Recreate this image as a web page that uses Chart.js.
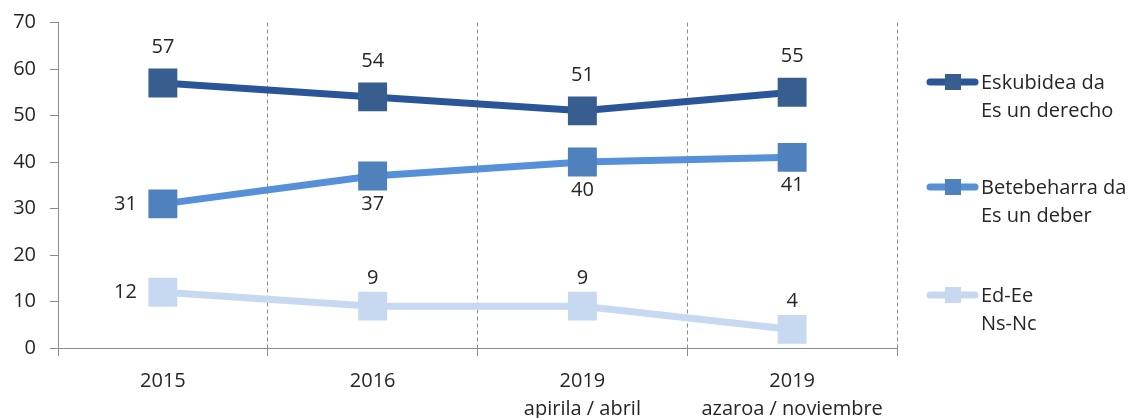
<!DOCTYPE html>
<html>
<head>
<meta charset="utf-8">
<script src="https://cdn.jsdelivr.net/npm/chart.js@4.4.1/dist/chart.umd.min.js"></script>
<style>
  html, body { margin: 0; padding: 0; background: #fff; }
  #wrap { width: 1134px; height: 418px; position: relative; }
</style>
</head>
<body>
<div id="wrap"><canvas id="lineChart"></canvas></div>
<script>
/* Data */
const categories = [["2015"], ["2016"], ["2019", "apirila / abril"], ["2019", "azaroa / noviembre"]];
const seriesNames = [["Eskubidea da", "Es un derecho"], ["Betebeharra da", "Es un deber"], ["Ed-Ee", "Ns-Nc"]];
const eskubidea = [57, 54, 51, 55];
const betebeharra = [31, 37, 40, 41];
const edEe = [12, 9, 9, 4];
const yTicks = [0, 10, 20, 30, 40, 50, 60, 70];

const FONT = "'Open Sans', sans-serif";
const TEXT = "#262626";

// value labels next to each point
const valueLabels = {
  id: "valueLabels",
  afterDatasetsDraw(chart) {
    const ctx = chart.ctx;
    ctx.save();
    ctx.font = "20px " + FONT;
    ctx.fillStyle = TEXT;
    ctx.textBaseline = "middle";
    chart.data.datasets.forEach((ds, i) => {
      const meta = chart.getDatasetMeta(i);
      meta.data.forEach((pt, j) => {
        const pos = ds.labelPos[j];
        let x = pt.x, y = pt.y;
        ctx.textAlign = "center";
        if (pos === "above") y -= ds.labelGap;
        else if (pos === "below") y += ds.labelGap;
        else if (pos === "left") { ctx.textAlign = "right"; x -= 26; }
        ctx.fillText(ds.data[j], x, y);
      });
    });
    ctx.restore();
  }
};

// legend on the right with two-line labels
const sideLegend = {
  id: "sideLegend",
  afterDraw(chart) {
    const ctx = chart.ctx;
    const x0 = chart.chartArea.right + 30;
    const rows = [82, 187, 295];
    ctx.save();
    chart.data.datasets.forEach((ds, i) => {
      const y = rows[i];
      ctx.strokeStyle = ds.borderColor;
      ctx.lineWidth = 7;
      ctx.lineCap = "round";
      ctx.beginPath();
      ctx.moveTo(x0 + 3, y);
      ctx.lineTo(x0 + 48, y);
      ctx.stroke();
      ctx.fillStyle = ds.pointBackgroundColor;
      ctx.fillRect(x0 + 18, y - 8, 16, 16);
      ctx.fillStyle = TEXT;
      ctx.font = "20px " + FONT;
      ctx.textAlign = "left";
      ctx.textBaseline = "middle";
      seriesNames[i].forEach((line, k) => ctx.fillText(line, x0 + 54, y + 1 + k * 28));
    });
    ctx.restore();
  }
};

function series(data, line, marker, labelPos, labelGap) {
  return {
    data,
    borderColor: line,
    backgroundColor: line,
    pointBackgroundColor: marker,
    pointBorderColor: marker,
    borderWidth: 7,
    pointStyle: "rect",
    pointRadius: 15.5,
    pointHoverRadius: 15.5,
    tension: 0,
    labelPos,
    labelGap
  };
}

new Chart(document.getElementById("lineChart"), {
  type: "line",
  data: {
    labels: categories,
    datasets: [
      series(eskubidea, "#2a5699", "#375e8f", ["above", "above", "above", "above"], 36),
      series(betebeharra, "#5590d8", "#4f81bd", ["left", "below", "below", "below"], 28),
      series(edEe, "#c6d9f1", "#c6d9f1", ["left", "above", "above", "above"], 28)
    ]
  },
  options: {
    responsive: true,
    maintainAspectRatio: false,
    animation: false,
    layout: { padding: { top: 8, right: 237, left: 0, bottom: 0 } },
    plugins: {
      legend: { display: false },
      tooltip: { enabled: false }
    },
    scales: {
      x: {
        offset: true,
        grid: {
          offset: true,
          drawOnChartArea: true,
          color: "#8c8c8c",
          lineWidth: 1,
          tickLength: 8,
          tickColor: "#8c8c8c",
          tickBorderDash: [],
          tickWidth: 1
        },
        border: { display: true, color: "#8c8c8c", width: 1, dash: [4, 3] },
        ticks: { color: TEXT, font: { family: FONT, size: 20, lineHeight: 1.4 }, padding: 11, maxRotation: 0 },
        afterFit: s => { s.height = 70; }
      },
      y: {
        min: 0,
        max: 70,
        afterBuildTicks: s => { s.ticks = yTicks.map(v => ({ value: v })); },
        grid: { drawOnChartArea: false, tickLength: 8, color: "#8c8c8c" },
        border: { display: true, color: "#8c8c8c", width: 1 },
        ticks: { color: TEXT, font: { family: FONT, size: 20, lineHeight: 0.8 }, padding: 14 },
        afterFit: s => { s.width = 58; }
      }
    }
  },
  plugins: [valueLabels, sideLegend]
});
</script>
</body>
</html>
